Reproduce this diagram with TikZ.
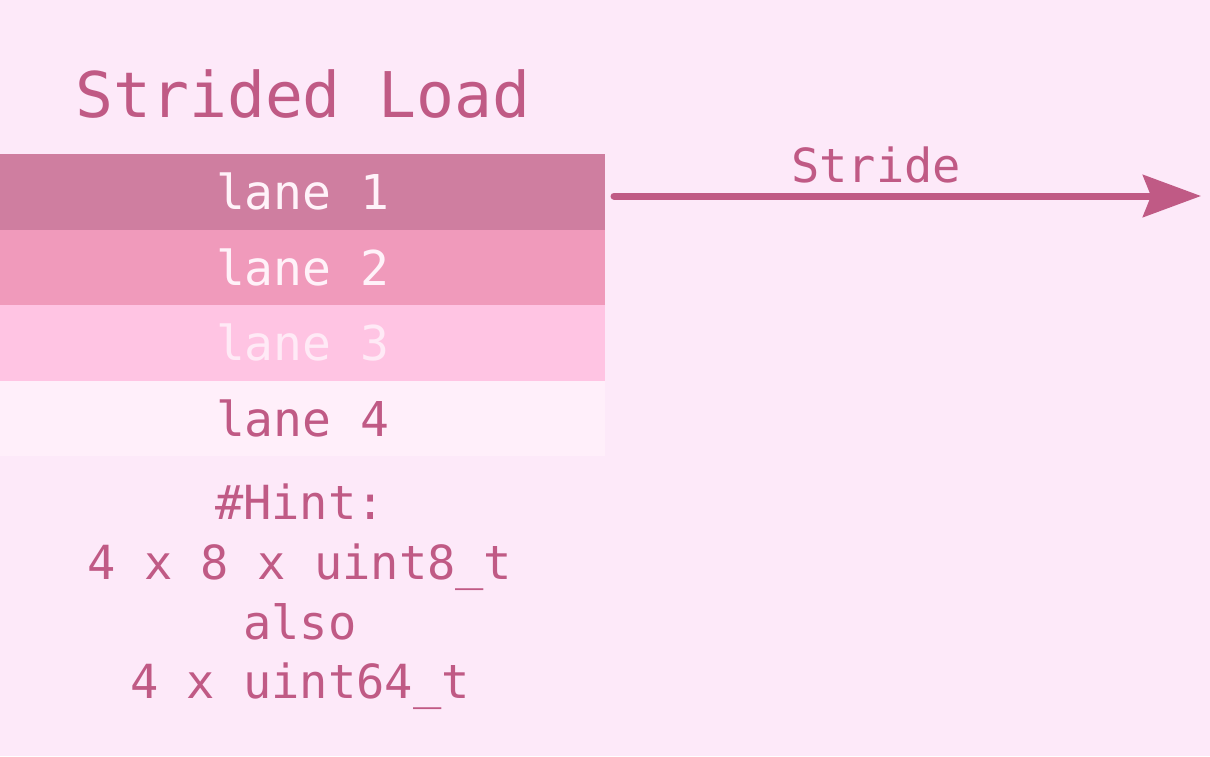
\documentclass[tikz,border=0pt]{standalone}
\usepackage{fontspec}
\setmonofont{DejaVu Sans Mono}
\usetikzlibrary{arrows.meta}
\definecolor{bg}{HTML}{FDE9F9}
\definecolor{ink}{HTML}{C05A85}
\definecolor{laneA}{HTML}{CF7EA0}
\definecolor{laneB}{HTML}{F09ABB}
\definecolor{laneC}{HTML}{FFC4E3}
\definecolor{laneD}{HTML}{FFEFFA}
\definecolor{paletxt}{HTML}{FFF2F9}
\definecolor{palertxt}{HTML}{FFEAF6}
\begin{document}
\begin{tikzpicture}[x=1pt,y=-1pt,
  lanebox/.style={minimum width=605pt,minimum height=75.5pt,inner sep=0pt,anchor=north west,font=\ttfamily\fontsize{48}{48}\selectfont},
  hinttxt/.style={text=ink,font=\ttfamily\fontsize{47}{47}\selectfont,inner sep=0pt,anchor=base}]
\fill[bg] (0,0) rectangle (1210,756);
\useasboundingbox (0,0) rectangle (1210,756);
\node[text=ink,font=\ttfamily\fontsize{63}{63}\selectfont,inner sep=0pt,anchor=base] (title) at (303,117) {Strided Load};
\node[lanebox,fill=laneA,text=paletxt] (l1) at (0,154) {lane 1};
\node[lanebox,fill=laneB,text=paletxt] (l2) at (0,229.5) {lane 2};
\node[lanebox,fill=laneC,text=palertxt] (l3) at (0,305) {lane 3};
\node[lanebox,fill=laneD,text=ink] (l4) at (0,380.5) {lane 4};
\node[hinttxt] (h1) at (300,519) {\#Hint:};
\node[hinttxt] (h2) at (300,579) {4 x 8 x uint8\_t};
\node[hinttxt] (h3) at (300,639) {also};
\node[hinttxt] (h4) at (300,698) {4 x uint64\_t};
\coordinate (astart) at (614,196);
\coordinate (aend) at (1201,196);
\draw[ink,line width=7pt,line cap=round,-{Stealth[length=58pt,width=42pt,inset=8pt]}] (astart) -- (aend);
\node[text=ink,font=\ttfamily\fontsize{47}{47}\selectfont,inner sep=0pt,anchor=base] (stride) at (876,182) {Stride};
\end{tikzpicture}
\end{document}
